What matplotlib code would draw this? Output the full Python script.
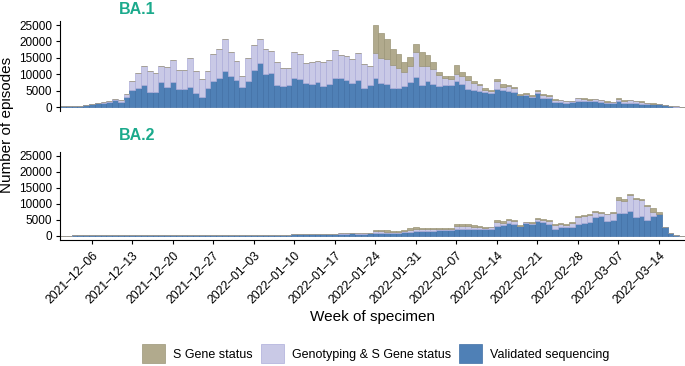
import matplotlib.pyplot as plt
import pandas as pd

plt.rcParams['font.family'] = ['Liberation Sans', 'DejaVu Sans']

# daily bars, 2021-12-01 .. 2022-03-18
dates = pd.date_range('2021-12-01', '2022-03-18', freq='D')
week_ticks = pd.date_range('2021-12-06', '2022-03-14', freq='7D')

# BA.1 panel
ba1_validated = ([200, 250, 300, 350, 550]
                 + [900, 1100, 1250, 1500, 2000, 1600, 3200]
                 + [5200, 5800, 6700, 4700, 4700, 7500, 6000]
                 + [7500, 5500, 5600, 6000, 4200, 3200, 5900]
                 + [7800, 9000, 10900, 9600, 8200, 6000, 8000]
                 + [11300, 13400, 10200, 10400, 6700, 6500, 6700]
                 + [9000, 8600, 7300, 6900, 7700, 6300, 6900]
                 + [9000, 8700, 8100, 7400, 8300, 5900, 6800]
                 + [8700, 7200, 7100, 5800, 5700, 6500, 7700]
                 + [9100, 6800, 8000, 7100, 6500, 6700, 6700]
                 + [7900, 6900, 5500, 5300, 4800, 4700, 4400]
                 + [5600, 5100, 4900, 4600, 3600, 3800, 3200]
                 + [4200, 2800, 2600, 1600, 1500, 1300, 1400]
                 + [1700, 1700, 1700, 1900, 1600, 1200, 1200]
                 + [1700, 1300, 1300, 1100, 1000, 800, 800]
                 + [800, 500, 200, 100, 0])
ba1_genotyping = ([0, 0, 0, 50, 100]
                  + [100, 100, 150, 200, 500, 400, 800]
                  + [2800, 4500, 5900, 6300, 5800, 5100, 6200]
                  + [6700, 5800, 5700, 9000, 6800, 5300, 5100]
                  + [8500, 8700, 9700, 7300, 5900, 3500, 7000]
                  + [7600, 7200, 7400, 6600, 7000, 5400, 5200]
                  + [7800, 7600, 6200, 6800, 6200, 7300, 7400]
                  + [8400, 7300, 7400, 7200, 8100, 7200, 5600]
                  + [7700, 7900, 7600, 7100, 6200, 4200, 4900]
                  + [7600, 5600, 4400, 4400, 3200, 2000, 1800]
                  + [2300, 2650, 2840, 1930, 1920, 610, 510]
                  + [2330, 1020, 1420, 1120, 200, 200, 200]
                  + [610, 920, 610, 610, 510, 410, 310]
                  + [910, 710, 510, 410, 400, 410, 200]
                  + [810, 610, 710, 610, 500, 310, 100]
                  + [100, 100, 100, 100, 0])
ba1_sgene = ([0] * 54
             + [8700, 7400, 6000, 4900, 4300, 3100, 2700]
             + [2600, 4300, 3500, 2200, 1100, 800, 900]
             + [2600, 1200, 1220, 820, 410, 510, 400]
             + [610, 910, 400, 410, 300, 310, 210]
             + [300, 300, 510, 200, 210, 200, 200]
             + [200, 200, 200, 200, 210, 200, 210]
             + [200, 310, 210, 200, 210, 200, 210]
             + [110, 0, 0, 0, 0])

# BA.2 panel
ba2_validated = ([50, 60, 70, 80, 100, 100, 120, 120, 130, 150, 150, 150, 200, 200,
                  250, 250, 200, 200, 200, 150, 150, 150, 150, 150, 150, 200, 200]
                 + [200, 200, 250, 250, 250, 250, 300, 300, 300, 300, 300, 300, 300]
                 + [400, 450, 450, 450, 500, 500]
                 + [600, 600, 650, 650, 700, 650, 650, 700]
                 + [830, 730, 830, 730, 830, 1250, 1250]
                 + [1560, 1460, 1460, 1460, 1770, 1670, 1670]
                 + [2080, 2080, 2080, 2080, 2080, 2080, 2190]
                 + [3130, 3440, 3960, 3750, 2920, 3960, 3650]
                 + [4580, 4170, 3750, 2080, 2710, 2710, 2710]
                 + [3650, 3850, 4170, 5840, 6250, 4580, 5000]
                 + [7190, 6980, 7610, 5840, 6150, 4900, 6150]
                 + [6770, 2600, 940, 210, 0])
ba2_genotyping = ([0] * 12 + [50, 100, 100, 80, 50] + [0] * 10 + [50] * 27
                  + [520, 620, 420, 520, 420, 210, 520]
                  + [630, 620, 520, 520, 210, 520, 310]
                  + [840, 840, 940, 730, 730, 420, 410]
                  + [1250, 520, 830, 730, 210, 210, 410]
                  + [530, 620, 940, 1250, 940, 620, 1350]
                  + [2290, 2190, 2390, 1660, 940, 2090, 2190]
                  + [3860, 3860, 5100, 5620, 4900, 4270, 1350]
                  + [110, 110, 0, 0, 0])
ba2_sgene = ([0] * 54
             + [320, 320, 420, 310, 310, 310, 520]
             + [410, 420, 520, 520, 310, 310, 310]
             + [620, 620, 520, 520, 320, 310, 210]
             + [410, 620, 320, 310, 200, 210, 320]
             + [310, 320, 310, 420, 310, 420, 320]
             + [310, 420, 320, 210, 310, 210, 310]
             + [1040, 620, 320, 420, 410, 420, 1250]
             + [410, 0, 0, 0, 0])

fill = {'val': '#4F80B6', 'gen': '#C9C9E6', 'sg': '#B1AA8D'}
edge = {'val': '#416FA6', 'gen': '#ADADDA', 'sg': '#9C9578'}


def draw_panel(ax, validated, genotyping, sgene):
    b_val = ax.bar(dates, validated, width=1, color=fill['val'],
                   edgecolor=edge['val'], linewidth=0.5)
    b_gen = ax.bar(dates, genotyping, width=1, bottom=validated, color=fill['gen'],
                   edgecolor=edge['gen'], linewidth=0.5)
    under = [a + b for a, b in zip(validated, genotyping)]
    b_sg = ax.bar(dates, sgene, width=1, bottom=under, color=fill['sg'],
                  edgecolor=edge['sg'], linewidth=0.5)
    ax.set_xlim(pd.Timestamp('2021-11-30 12:00'), pd.Timestamp('2022-03-18 12:00'))
    ax.set_ylim(-1250, 26250)
    ax.set_yticks(range(0, 25001, 5000))
    ax.set_yticklabels([str(v) for v in range(0, 25001, 5000)])
    for s in ['top', 'right']:
        ax.spines[s].set_visible(False)
    ax.spines['left'].set_linewidth(0.8)
    ax.spines['bottom'].set_linewidth(0.8)
    ax.tick_params(axis='both', length=2.75, width=0.8, labelsize=8.5, color='black')
    ax.tick_params(axis='y', pad=3)
    return b_sg, b_gen, b_val


fig = plt.figure(figsize=(6.85, 3.66), dpi=100)
ax1 = fig.add_axes([0.0876, 0.6964, 0.9124, 0.2464])
ax2 = fig.add_axes([0.0876, 0.3451, 0.9124, 0.2404])

handles = draw_panel(ax1, ba1_validated, ba1_genotyping, ba1_sgene)
draw_panel(ax2, ba2_validated, ba2_genotyping, ba2_sgene)

ax1.spines['bottom'].set_visible(False)
ax1.set_xticks([])

ax2.set_xticks(week_ticks)
ax2.set_xticklabels([d.strftime('%Y\u2013%m\u2013%d') for d in week_ticks],
                    rotation=45, ha='right', va='top', rotation_mode='anchor',
                    fontsize=8.8)
ax2.tick_params(axis='x', pad=4.5)

title_color = '#1BAA8C'
fig.text(119 / 685, 1 - 10 / 366, 'BA.1', color=title_color, fontsize=11.5,
         fontweight='bold', ha='left', va='center')
fig.text(119 / 685, 1 - 135 / 366, 'BA.2', color=title_color, fontsize=11.5,
         fontweight='bold', ha='left', va='center')
fig.text(7 / 685, 1 - 125 / 366, 'Number of episodes', rotation=90,
         fontsize=11, ha='center', va='center')
fig.text(372 / 685, 1 - 317 / 366, 'Week of specimen', fontsize=11,
         ha='center', va='center')

fig.legend(handles, ['S Gene status', 'Genotyping & S Gene status', 'Validated sequencing'],
           loc='center', bbox_to_anchor=(376 / 685, 1 - 353.5 / 366), ncol=3,
           frameon=False, fontsize=9, handlelength=1.85, handleheight=1.85,
           handletextpad=0.64, columnspacing=0.64, borderpad=0, borderaxespad=0)

fig.savefig('out.png', dpi=100)
